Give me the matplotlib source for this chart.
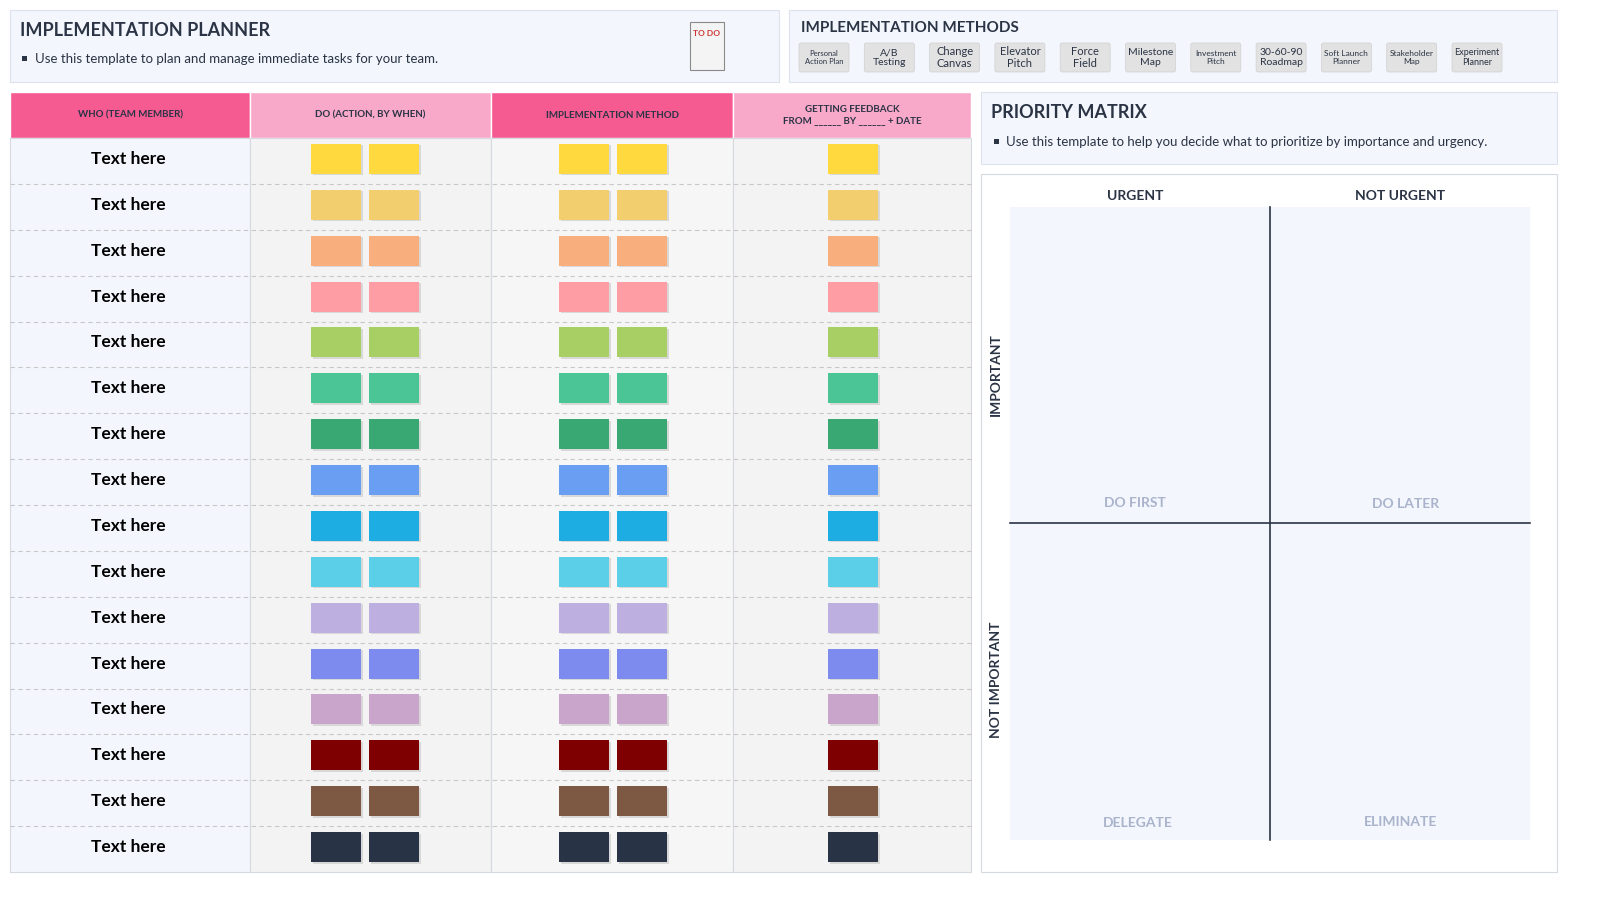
import matplotlib
matplotlib.use("Agg")
import matplotlib.pyplot as plt
from matplotlib.patches import Rectangle, FancyBboxPatch

plt.rcParams['font.family'] = ['Lato', 'DejaVu Sans']

row_labels = ["Text here"] * 16
sticky_colors = ["#FFD93D", "#F2CE6E", "#F9AE7D", "#FF9DA4", "#A8CF63", "#4CC596",
                 "#3AA873", "#6A9EF2", "#1EADE3", "#5BCEE8", "#BDB0E0", "#7E8BEE",
                 "#C9A5CC", "#7F0000", "#7D5843", "#283346"]
methods = ["Personal\nAction Plan", "A/B\nTesting", "Change\nCanvas", "Elevator\nPitch",
           "Force\nField", "Milestone\nMap", "Investment\nPitch", "30-60-90\nRoadmap",
           "Soft Launch\nPlanner", "Stakeholder\nMap", "Experiment\nPlanner"]
method_sizes = [5.5, 7.5, 8, 8, 8, 7.5, 6, 7.5, 6, 6, 6.5]
headers = ["WHO (TEAM MEMBER)", "DO (ACTION, BY WHEN)", "IMPLEMENTATION METHOD",
           "GETTING FEEDBACK\nFROM ______ BY ______ + DATE"]
header_colors = ["#F55A91", "#F8A8C8", "#F55A91", "#F8A8C8"]
quad_cols = ["URGENT", "NOT URGENT"]
quad_rows = ["IMPORTANT", "NOT IMPORTANT"]
quad_labels = ["DO FIRST", "DO LATER", "DELEGATE", "ELIMINATE"]

fig = plt.figure(figsize=(16, 9), dpi=100)
ax = fig.add_axes([0, 0, 1, 1])
ax.set_xlim(0, 1600)
ax.set_ylim(900, 0)
ax.axis("off")
dark = "#2B3445"

def rect(x, y, w, h, fc, ec="none", lw=0.8, z=1):
    ax.add_patch(Rectangle((x, y), w, h, facecolor=fc, edgecolor=ec, linewidth=lw, zorder=z))

# Top-left panel
rect(10, 10, 769, 72, "#F3F6FC", "#DDE3EE")
ax.text(20, 31, "IMPLEMENTATION PLANNER", fontsize=13, fontweight="bold", color=dark, va="center")
rect(22, 55.5, 5, 5, dark)
ax.text(35, 59, "Use this template to plan and manage immediate tasks for your team.",
        fontsize=9.5, color=dark, va="center")
# small clipboard illustration
rect(690, 22, 34, 48, "#F4F4F4", "#8A8A8A", z=2)
ax.text(707, 33, "TO DO", fontsize=6, fontweight="bold", color="#C33", ha="center", va="center", zorder=3)

# Top-right panel
rect(789, 10, 768, 72, "#F3F6FC", "#DDE3EE")
ax.text(801, 28, "IMPLEMENTATION METHODS", fontsize=11, fontweight="bold", color=dark, va="center")
for i, (m, fs) in enumerate(zip(methods, method_sizes)):
    x = 799 + i * 65.3
    ax.add_patch(FancyBboxPatch((x, 43), 50, 29, boxstyle="round,pad=0,rounding_size=2",
                                facecolor="#E2E2E2", edgecolor="#D0D0D0", linewidth=0.5, zorder=2))
    ax.text(x + 25, 57.5, m, fontsize=fs, color=dark, ha="center", va="center",
            linespacing=1.1, zorder=3)

# Table
col_x = [10, 250, 491, 733, 971]
col_bg = ["#F3F6FC", "#F3F3F3", "#F6F6F6", "#F3F3F3"]
top, hdr_h, bottom = 92, 46, 872
for i in range(4):
    rect(col_x[i], top, col_x[i+1]-col_x[i], hdr_h, header_colors[i], "#FFFFFF", 1)
    rect(col_x[i], top+hdr_h, col_x[i+1]-col_x[i], bottom-top-hdr_h, col_bg[i], "#D5D9E0", 0.8)
    ax.text((col_x[i]+col_x[i+1])/2, top+hdr_h/2, headers[i], fontsize=7, fontweight="bold",
            color=dark, ha="center", va="center", zorder=3, linespacing=1.4)
n = len(row_labels)
rh = (bottom - top - hdr_h) / n
for r in range(n):
    y0 = top + hdr_h + r*rh
    if r > 0:
        ax.plot([10, 971], [y0, y0], color="#C8C8C8", lw=0.8, ls=(0, (4, 3)), zorder=2)
    yc = y0 + rh/2 - 2
    ax.text(128, yc, row_labels[r], fontsize=12.5, fontweight="bold", color="black",
            ha="center", va="center", zorder=3)
    c = sticky_colors[r]
    for sx in [311, 369, 559, 617, 828]:
        rect(sx+1.5, yc-13.5, 50, 30, "#D8D8D8", z=2)
        rect(sx, yc-15, 50, 30, c, z=3)

# Priority matrix
rect(981, 92, 576, 72, "#F3F6FC", "#DDE3EE")
ax.text(991, 112, "PRIORITY MATRIX", fontsize=13, fontweight="bold", color=dark, va="center")
rect(994, 138.5, 5, 5, dark)
ax.text(1006, 142, "Use this template to help you decide what to prioritize by importance and urgency.",
        fontsize=9.5, color=dark, va="center")
rect(981, 174, 576, 698, "#FFFFFF", "#D5D9E0")
rect(1010, 207, 520, 633, "#F3F6FC")
ax.plot([1270, 1270], [207, 840], color=dark, lw=1.2, zorder=3)
ax.plot([1010, 1530], [523, 523], color=dark, lw=1.2, zorder=3)
for i, t in enumerate(quad_cols):
    ax.text([1135, 1400][i], 196, t, fontsize=10, fontweight="bold", color=dark, ha="center", va="center")
for i, t in enumerate(quad_rows):
    ax.text(996, [375, 680][i], t, fontsize=10, fontweight="bold", color=dark, ha="center",
            va="center", rotation=90)
qpos = [(1135, 503), (1406, 504), (1138, 823), (1401, 822)]
for (x, y), t in zip(qpos, quad_labels):
    ax.text(x, y, t, fontsize=10, fontweight="bold", color="#A9B3CC", ha="center", va="center", zorder=3)

fig.savefig("out.png", dpi=100, facecolor="white")
